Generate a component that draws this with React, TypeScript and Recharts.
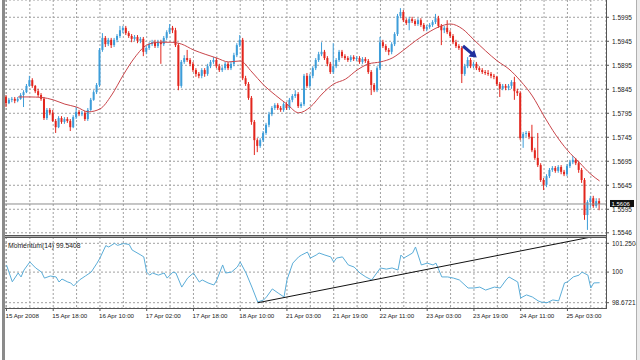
import React from 'react';
import {
  ComposedChart,
  Bar,
  Line,
  XAxis,
  YAxis,
  CartesianGrid,
  ReferenceLine,
  ReferenceDot
} from 'recharts';

// H1 candles, 15 Apr 02:00 .. 25 Apr 14:00 (bar index = hour slot)
const opens = [
  1.5829, 1.5816, 1.5823, 1.5825, 1.5821, 1.5825, 1.5833, 1.5839, 1.5852, 1.5864, 1.5852, 1.5841, 1.5833, 1.5825, 1.5785, 1.5802,
  1.5796, 1.5779, 1.5766, 1.5785, 1.5777, 1.5783, 1.5779, 1.5766, 1.5787, 1.5798, 1.5793, 1.5796, 1.5783, 1.5802, 1.5823, 1.5839,
  1.5854, 1.5927, 1.5952, 1.5939, 1.5948, 1.5937, 1.5948, 1.5956, 1.5968, 1.5973, 1.5962, 1.5956, 1.5950, 1.5954, 1.5946, 1.5950,
  1.5923, 1.5931, 1.5939, 1.5943, 1.5935, 1.5943, 1.5939, 1.5952, 1.5964, 1.5973, 1.5968, 1.5937, 1.5852, 1.5902, 1.5910, 1.5906,
  1.5898, 1.5885, 1.5877, 1.5873, 1.5885, 1.5877, 1.5893, 1.5902, 1.5906, 1.5893, 1.5885, 1.5889, 1.5898, 1.5889, 1.5898, 1.5916,
  1.5937, 1.5948, 1.5868, 1.5856, 1.5827, 1.5777, 1.5739, 1.5727, 1.5739, 1.5754, 1.5771, 1.5793, 1.5806, 1.5812, 1.5806, 1.5802,
  1.5814, 1.5806, 1.5823, 1.5831, 1.5835, 1.5810, 1.5814, 1.5873, 1.5852, 1.5873, 1.5889, 1.5906, 1.5918, 1.5923, 1.5910, 1.5898,
  1.5881, 1.5893, 1.5906, 1.5923, 1.5914, 1.5910, 1.5906, 1.5912, 1.5908, 1.5910, 1.5902, 1.5908, 1.5904, 1.5881, 1.5854, 1.5843,
  1.5889, 1.5943, 1.5935, 1.5927, 1.5923, 1.5939, 1.5960, 1.5998, 1.6006, 1.5989, 1.5983, 1.5991, 1.5987, 1.5981, 1.5989, 1.5979,
  1.5971, 1.5975, 1.5979, 1.5985, 1.5993, 1.5977, 1.5968, 1.5973, 1.5964, 1.5956, 1.5943, 1.5935, 1.5931, 1.5877, 1.5893, 1.5906,
  1.5893, 1.5898, 1.5889, 1.5885, 1.5881, 1.5879, 1.5877, 1.5873, 1.5871, 1.5856, 1.5846, 1.5852, 1.5848, 1.5852, 1.5860, 1.5841,
  1.5837, 1.5743, 1.5752, 1.5754, 1.5746, 1.5718, 1.5702, 1.5687, 1.5656, 1.5646, 1.5664, 1.5677, 1.5681, 1.5675, 1.5683, 1.5673,
  1.5668, 1.5685, 1.5693, 1.5698, 1.5691, 1.5677, 1.5656, 1.5583, 1.5610, 1.5618, 1.5602, 1.5612
];

const highs = [
  1.5833, 1.5827, 1.5829, 1.5829, 1.5829, 1.5837, 1.5843, 1.5856, 1.5873, 1.5868, 1.5854, 1.5846, 1.5837, 1.5829, 1.5806, 1.5806,
  1.5802, 1.5783, 1.5789, 1.5789, 1.5787, 1.5787, 1.5783, 1.5791, 1.5808, 1.5802, 1.5800, 1.5800, 1.5806, 1.5827, 1.5843, 1.5858,
  1.5931, 1.5962, 1.5956, 1.5952, 1.5952, 1.5952, 1.5960, 1.5977, 1.5977, 1.5977, 1.5966, 1.5960, 1.5958, 1.5958, 1.5954, 1.5954,
  1.5935, 1.5943, 1.5948, 1.5948, 1.5948, 1.5948, 1.5956, 1.5968, 1.5981, 1.5977, 1.5973, 1.5941, 1.5906, 1.5916, 1.5927, 1.5910,
  1.5902, 1.5889, 1.5881, 1.5889, 1.5889, 1.5898, 1.5906, 1.5912, 1.5910, 1.5898, 1.5893, 1.5902, 1.5902, 1.5902, 1.5921, 1.5941,
  1.5958, 1.5952, 1.5873, 1.5860, 1.5831, 1.5781, 1.5743, 1.5743, 1.5758, 1.5775, 1.5798, 1.5810, 1.5816, 1.5816, 1.5810, 1.5818,
  1.5818, 1.5827, 1.5835, 1.5843, 1.5839, 1.5818, 1.5877, 1.5879, 1.5877, 1.5893, 1.5910, 1.5923, 1.5943, 1.5927, 1.5914, 1.5902,
  1.5941, 1.5910, 1.5927, 1.5927, 1.5918, 1.5914, 1.5916, 1.5916, 1.5914, 1.5914, 1.5912, 1.5912, 1.5908, 1.5885, 1.5858, 1.5893,
  1.5954, 1.5948, 1.5939, 1.5931, 1.5943, 1.5964, 1.6002, 1.6014, 1.6010, 1.5993, 1.5996, 1.5996, 1.5991, 1.5993, 1.5993, 1.5983,
  1.5979, 1.5983, 1.5989, 1.6002, 1.5998, 1.5981, 1.5977, 1.5989, 1.5968, 1.5960, 1.5948, 1.5939, 1.5935, 1.5898, 1.5912, 1.5910,
  1.5902, 1.5902, 1.5893, 1.5889, 1.5885, 1.5885, 1.5881, 1.5877, 1.5873, 1.5860, 1.5856, 1.5856, 1.5856, 1.5864, 1.5871, 1.5846,
  1.5841, 1.5756, 1.5758, 1.5758, 1.5771, 1.5723, 1.5754, 1.5691, 1.5660, 1.5668, 1.5681, 1.5685, 1.5685, 1.5687, 1.5687, 1.5677,
  1.5689, 1.5698, 1.5706, 1.5702, 1.5696, 1.5681, 1.5660, 1.5614, 1.5623, 1.5623, 1.5618, 1.5618
];

const lows = [
  1.5808, 1.5814, 1.5818, 1.5816, 1.5818, 1.5823, 1.5808, 1.5837, 1.5850, 1.5848, 1.5837, 1.5829, 1.5821, 1.5781, 1.5781, 1.5791,
  1.5777, 1.5754, 1.5764, 1.5773, 1.5773, 1.5775, 1.5758, 1.5764, 1.5783, 1.5789, 1.5789, 1.5779, 1.5779, 1.5800, 1.5821, 1.5835,
  1.5850, 1.5923, 1.5933, 1.5935, 1.5931, 1.5933, 1.5943, 1.5952, 1.5962, 1.5958, 1.5952, 1.5943, 1.5946, 1.5941, 1.5941, 1.5914,
  1.5918, 1.5927, 1.5935, 1.5931, 1.5931, 1.5898, 1.5935, 1.5948, 1.5960, 1.5962, 1.5933, 1.5843, 1.5848, 1.5898, 1.5902, 1.5893,
  1.5881, 1.5871, 1.5868, 1.5868, 1.5871, 1.5873, 1.5889, 1.5898, 1.5889, 1.5881, 1.5881, 1.5885, 1.5885, 1.5885, 1.5893, 1.5912,
  1.5933, 1.5864, 1.5852, 1.5823, 1.5771, 1.5708, 1.5714, 1.5723, 1.5735, 1.5750, 1.5766, 1.5789, 1.5802, 1.5802, 1.5798, 1.5798,
  1.5802, 1.5802, 1.5818, 1.5827, 1.5806, 1.5806, 1.5810, 1.5848, 1.5848, 1.5868, 1.5885, 1.5902, 1.5914, 1.5906, 1.5893, 1.5877,
  1.5877, 1.5889, 1.5902, 1.5910, 1.5906, 1.5902, 1.5902, 1.5904, 1.5904, 1.5898, 1.5898, 1.5900, 1.5877, 1.5833, 1.5839, 1.5839,
  1.5885, 1.5931, 1.5923, 1.5916, 1.5918, 1.5935, 1.5956, 1.5993, 1.5985, 1.5979, 1.5968, 1.5983, 1.5977, 1.5977, 1.5975, 1.5966,
  1.5966, 1.5971, 1.5975, 1.5981, 1.5973, 1.5937, 1.5962, 1.5960, 1.5952, 1.5939, 1.5931, 1.5927, 1.5858, 1.5873, 1.5889, 1.5889,
  1.5889, 1.5885, 1.5881, 1.5877, 1.5875, 1.5873, 1.5868, 1.5866, 1.5852, 1.5829, 1.5843, 1.5843, 1.5843, 1.5846, 1.5823, 1.5831,
  1.5739, 1.5723, 1.5746, 1.5741, 1.5714, 1.5698, 1.5683, 1.5652, 1.5635, 1.5641, 1.5660, 1.5673, 1.5671, 1.5671, 1.5668, 1.5664,
  1.5664, 1.5681, 1.5689, 1.5687, 1.5671, 1.5650, 1.5573, 1.5552, 1.5598, 1.5598, 1.5598, 1.5593
];

const closes = [
  1.5816, 1.5823, 1.5825, 1.5821, 1.5825, 1.5833, 1.5839, 1.5852, 1.5864, 1.5852, 1.5841, 1.5833, 1.5825, 1.5785, 1.5802, 1.5796,
  1.5779, 1.5766, 1.5785, 1.5777, 1.5783, 1.5779, 1.5766, 1.5787, 1.5798, 1.5793, 1.5796, 1.5783, 1.5802, 1.5823, 1.5839, 1.5854,
  1.5927, 1.5952, 1.5939, 1.5948, 1.5937, 1.5948, 1.5956, 1.5968, 1.5973, 1.5962, 1.5956, 1.5950, 1.5954, 1.5946, 1.5950, 1.5923,
  1.5931, 1.5939, 1.5943, 1.5935, 1.5943, 1.5939, 1.5952, 1.5964, 1.5973, 1.5968, 1.5937, 1.5852, 1.5902, 1.5910, 1.5906, 1.5898,
  1.5885, 1.5877, 1.5873, 1.5885, 1.5877, 1.5893, 1.5902, 1.5906, 1.5893, 1.5885, 1.5889, 1.5898, 1.5889, 1.5898, 1.5916, 1.5937,
  1.5948, 1.5868, 1.5856, 1.5827, 1.5777, 1.5739, 1.5727, 1.5739, 1.5754, 1.5771, 1.5793, 1.5806, 1.5812, 1.5806, 1.5802, 1.5814,
  1.5806, 1.5823, 1.5831, 1.5835, 1.5810, 1.5814, 1.5873, 1.5852, 1.5873, 1.5889, 1.5906, 1.5918, 1.5923, 1.5910, 1.5898, 1.5881,
  1.5893, 1.5906, 1.5923, 1.5914, 1.5910, 1.5906, 1.5912, 1.5908, 1.5910, 1.5902, 1.5908, 1.5904, 1.5881, 1.5854, 1.5843, 1.5889,
  1.5943, 1.5935, 1.5927, 1.5923, 1.5939, 1.5960, 1.5998, 1.6006, 1.5989, 1.5983, 1.5991, 1.5987, 1.5981, 1.5989, 1.5979, 1.5971,
  1.5975, 1.5979, 1.5985, 1.5993, 1.5977, 1.5968, 1.5973, 1.5964, 1.5956, 1.5943, 1.5935, 1.5931, 1.5877, 1.5893, 1.5906, 1.5893,
  1.5898, 1.5889, 1.5885, 1.5881, 1.5879, 1.5877, 1.5873, 1.5871, 1.5856, 1.5846, 1.5852, 1.5848, 1.5852, 1.5860, 1.5841, 1.5837,
  1.5743, 1.5752, 1.5754, 1.5746, 1.5718, 1.5702, 1.5687, 1.5656, 1.5646, 1.5664, 1.5677, 1.5681, 1.5675, 1.5683, 1.5673, 1.5668,
  1.5685, 1.5693, 1.5698, 1.5691, 1.5677, 1.5656, 1.5583, 1.5610, 1.5618, 1.5602, 1.5612, 1.5606
];

// moving average, read every 4 bars
const maBars = [4, 8, 12, 16, 20, 24, 28, 32, 36, 40, 44, 48, 52, 56, 60, 64, 68, 72, 76, 80, 84, 88, 92, 96, 100,
  104, 108, 112, 116, 120, 124, 128, 132, 136, 140, 144, 148, 152, 156, 160, 164, 168, 172, 176, 180, 184, 188, 192, 196, 200, 203];
const maValues = [1.5829, 1.5829, 1.5828, 1.5823, 1.5814, 1.5808, 1.5798, 1.5804, 1.5833, 1.5875, 1.5912, 1.5937, 1.5943,
  1.5943, 1.5939, 1.5927, 1.5918, 1.5910, 1.5902, 1.5904, 1.5881, 1.5854, 1.5833, 1.5814, 1.5796, 1.5808, 1.5835, 1.5856,
  1.5866, 1.5885, 1.5898, 1.5902, 1.5910, 1.5927, 1.5946, 1.5962, 1.5975, 1.5981, 1.5971, 1.5948, 1.5925, 1.5904, 1.5887,
  1.5862, 1.5831, 1.5789, 1.5750, 1.5718, 1.5693, 1.5668, 1.5654];

// Momentum(14)
const momBars = [0, 2, 4, 5, 6, 8, 10, 12, 13, 15, 17, 18, 19, 21, 22, 23, 25, 27, 29, 31, 32, 34, 35, 37, 38, 40, 42, 43,
  46, 47, 48, 49, 50, 52, 54, 55, 57, 58, 60, 62, 64, 66, 67, 69, 71, 72, 74, 75, 77, 79, 80, 82, 84, 86, 88, 89, 91, 93,
  95, 96, 98, 100, 101, 103, 104, 106, 107, 109, 111, 112, 113, 115, 117, 119, 121, 123, 125, 128, 130, 132, 134, 135, 136,
  139, 140, 142, 144, 146, 147, 149, 151, 153, 155, 158, 160, 162, 164, 167, 169, 171, 172, 175, 176, 178, 180, 182, 183,
  185, 187, 189, 190, 191, 192, 194, 196, 197, 199, 200, 201, 203];
const momValues = [100.31, 99.58, 99.96, 99.79, 100.09, 100.44, 100.18, 100.0, 99.74, 99.83, 99.79, 99.57, 99.7, 99.57,
  99.53, 99.4, 99.66, 99.83, 100.0, 100.39, 100.61, 101.15, 101.09, 101.25, 101.16, 101.24, 101.2, 100.96, 100.74, 100.66,
  100.0, 99.87, 99.96, 99.87, 99.96, 99.74, 100.0, 99.96, 99.35, 99.74, 99.96, 99.57, 99.66, 99.53, 99.44, 99.66, 100.31,
  99.96, 100.0, 100.22, 100.44, 99.96, 99.35, 98.7, 98.79, 98.92, 99.27, 99.09, 98.92, 99.66, 100.39, 100.66, 100.74,
  100.87, 100.61, 100.74, 100.83, 100.74, 100.66, 100.44, 100.61, 100.66, 100.31, 100.22, 99.96, 99.79, 99.66, 100.18,
  100.13, 100.18, 100.09, 100.74, 100.61, 100.83, 101.09, 100.31, 100.39, 100.31, 100.39, 99.79, 99.79, 99.74, 99.66,
  99.31, 99.31, 99.35, 99.22, 99.35, 99.31, 99.66, 99.79, 99.57, 98.88, 99.01, 98.92, 98.75, 98.7, 98.67, 98.79, 98.75,
  99.14, 99.53, 99.57, 99.79, 99.87, 100.0, 99.87, 99.31, 99.53, 99.54];

const labelBars = [0, 16, 32, 48, 64, 80, 96, 112, 128, 144, 160, 176, 192];
const timeLabels = ['15 Apr 2008', '15 Apr 18:00', '16 Apr 10:00', '17 Apr 02:00', '17 Apr 18:00', '18 Apr 10:00',
  '21 Apr 03:00', '21 Apr 19:00', '22 Apr 11:00', '23 Apr 03:00', '23 Apr 19:00', '24 Apr 11:00', '25 Apr 03:00'];
const gridBars = [0, 8, 16, 24, 32, 40, 48, 56, 64, 72, 80, 88, 96, 104, 112, 120, 128, 136, 144, 152, 160, 168, 176, 184, 192, 200];

const priceTicks = [1.5546, 1.5595, 1.5645, 1.5695, 1.5745, 1.5795, 1.5845, 1.5895, 1.5945, 1.5995];
const momTicks = [98.6721, 100, 101.2504];
const momTickLabels = ['98.6721', '100', '101.2504'];
const lastPrice = 1.5606;
const lastMomentum = '99.5408';

const trendStart = { bar: 86, value: 98.67 };
const trendEnd = { bar: 200, value: 101.52 };
const arrowAt = { bar: 158.6, price: 1.5923 };

const BULL = '#3d9dd9';
const BEAR = '#e2261d';
const MA_COLOR = '#c9454a';
const MOM_COLOR = '#5badd8';
const GRID = '#a0a0a0';
const FRAME = '#555';
const FONT = '"Liberation Sans", Arial, sans-serif';

const barDomain: [number, number] = [-0.5, 205.2];
const priceDomain: [number, number] = [1.55393, 1.6031];
const momDomain: [number, number] = [98.442, 101.524];

const candles = closes.map((c, i) => ({
  i,
  open: opens[i],
  high: highs[i],
  low: lows[i],
  close: c,
  range: [lows[i], highs[i]]
}));
const maData = maBars.map((b, k) => ({ i: b, ma: maValues[k] }));
const momData = momBars.map((b, k) => ({ i: b, mom: momValues[k] }));

const Candle = (props: any) => {
  const { x, y, width, height, payload } = props;
  if (x == null || !payload) return null;
  const top = Math.min(y, y + height);
  const h = Math.abs(height);
  const span = payload.high - payload.low;
  const k = span > 0 ? h / span : 0;
  const yo = top + (payload.high - payload.open) * k;
  const yc = top + (payload.high - payload.close) * k;
  const color = payload.close > payload.open ? BULL : BEAR;
  const cx = x + width / 2;
  const bt = Math.min(yo, yc);
  const bh = Math.max(Math.abs(yo - yc), 1);
  return (
    <g>
      <line x1={cx} x2={cx} y1={top} y2={top + Math.max(h, 1)} stroke={color} strokeWidth={1} />
      <rect x={cx - 1} y={bt} width={2} height={bh} fill={color} />
    </g>
  );
};

const PriceTick = ({ x, y, payload }: any) => (
  <g>
    <line x1={x} x2={x + 3} y1={y} y2={y} stroke={FRAME} />
    <text x={x + 6} y={y} dy={2.3} fontSize={6.5} fill="#222" fontFamily={FONT}>
      {Number(payload.value).toFixed(4)}
    </text>
  </g>
);

const MomTick = ({ x, y, payload }: any) => (
  <g>
    <line x1={x} x2={x + 3} y1={y} y2={y} stroke={FRAME} />
    <text x={x + 6} y={y} dy={2.3} fontSize={6.5} fill="#222" fontFamily={FONT}>
      {momTickLabels[momTicks.indexOf(payload.value)]}
    </text>
  </g>
);

const TimeTick = ({ x, y, payload }: any) => {
  const idx = labelBars.indexOf(payload.value);
  if (idx < 0) return null;
  return (
    <g>
      <line x1={x} x2={x} y1={y} y2={y + 3} stroke={FRAME} />
      <text x={x - 1} y={y + 10} fontSize={6.2} fill="#222" fontFamily={FONT}>
        {timeLabels[idx]}
      </text>
    </g>
  );
};

const PriceTag = ({ viewBox }: any) => {
  if (!viewBox) return null;
  const x = viewBox.x + viewBox.width + 4;
  const y = viewBox.y;
  return (
    <g>
      <rect x={x} y={y - 4} width={24} height={7} fill="#111" />
      <text x={x + 1.5} y={y} dy={1.8} fontSize={6} fill="#fff" fontFamily={FONT}>
        {lastPrice.toFixed(4)}
      </text>
    </g>
  );
};

const Arrow = ({ cx, cy }: any) => (
  <g transform={`translate(${cx},${cy}) rotate(40)`}>
    <polygon points="-9,-1.6 2,-1.6 2,-4.5 9,0 2,4.5 2,1.6 -9,1.6" fill="#1f2f9e" />
  </g>
);

const abs = (s: React.CSSProperties): React.CSSProperties => ({ position: 'absolute', ...s });

export default function App() {
  return (
    <div style={abs({ left: 0, top: 0, width: 640, height: 360, background: '#fff', overflow: 'hidden', fontFamily: FONT })}>
      <div style={abs({ left: 0, top: 0 })}>
        <ComposedChart width={640} height={236} data={candles} margin={{ top: 0, right: 0, bottom: 0, left: 5 }}>
          <CartesianGrid stroke={GRID} strokeDasharray="2 2" />
          <XAxis dataKey="i" type="number" domain={barDomain} ticks={gridBars} interval={0} allowDataOverflow hide />
          <YAxis
            orientation="right"
            width={34}
            domain={priceDomain}
            ticks={priceTicks}
            interval={0}
            allowDataOverflow
            axisLine={false}
            tickLine={false}
            tickSize={0}
            tickMargin={0}
            tick={<PriceTick />}
          />
          <ReferenceLine y={lastPrice} stroke="#8c8c8c" label={<PriceTag />} />
          <Bar dataKey="range" barSize={2} shape={(p: any) => <Candle {...p} />} isAnimationActive={false} />
          <Line
            data={maData}
            dataKey="ma"
            type="monotone"
            stroke={MA_COLOR}
            strokeWidth={1}
            dot={false}
            activeDot={false}
            isAnimationActive={false}
          />
          <ReferenceDot x={arrowAt.bar} y={arrowAt.price} r={1} ifOverflow="visible" shape={(p: any) => <Arrow {...p} />} />
        </ComposedChart>
      </div>

      <div style={abs({ left: 0, top: 237 })}>
        <ComposedChart width={640} height={90} data={momData} margin={{ top: 0, right: 0, bottom: 0, left: 5 }}>
          <CartesianGrid stroke={GRID} strokeDasharray="2 2" />
          <XAxis
            dataKey="i"
            type="number"
            domain={barDomain}
            ticks={gridBars}
            interval={0}
            allowDataOverflow
            height={19}
            axisLine={false}
            tickLine={false}
            tickSize={0}
            tickMargin={0}
            tick={<TimeTick />}
          />
          <YAxis
            orientation="right"
            width={34}
            domain={momDomain}
            ticks={momTicks}
            interval={0}
            allowDataOverflow
            axisLine={false}
            tickLine={false}
            tickSize={0}
            tickMargin={0}
            tick={<MomTick />}
          />
          <Line dataKey="mom" type="linear" stroke={MOM_COLOR} strokeWidth={1} dot={false} activeDot={false} isAnimationActive={false} />
          <ReferenceLine
            segment={[{ x: trendStart.bar, y: trendStart.value }, { x: trendEnd.bar, y: trendEnd.value }]}
            stroke="#111"
            strokeWidth={1}
            ifOverflow="visible"
          />
        </ComposedChart>
      </div>

      <div style={abs({ left: 8, top: 241.5, fontSize: 6.8, lineHeight: '8px', color: '#222', whiteSpace: 'nowrap' })}>
        Momentum(14) {lastMomentum}
      </div>

      {/* window / panel frames */}
      <div style={abs({ left: 2, top: 0, width: 3, height: 360, background: '#8a8a8a' })} />
      <div style={abs({ left: 5, top: 235, width: 602, height: 1, background: FRAME })} />
      <div style={abs({ left: 5, top: 236, width: 602, height: 1, background: '#b4b4b4' })} />
      <div style={abs({ left: 5, top: 237, width: 602, height: 1, background: FRAME })} />
      <div style={abs({ left: 5, top: 308, width: 602, height: 1, background: FRAME })} />
      <div style={abs({ left: 606, top: 0, width: 1, height: 309, background: FRAME })} />
      <div style={abs({ left: 636, top: 0, width: 4, height: 360, background: '#ececec', borderLeft: '1px solid #b0b0b0' })} />
    </div>
  );
}
